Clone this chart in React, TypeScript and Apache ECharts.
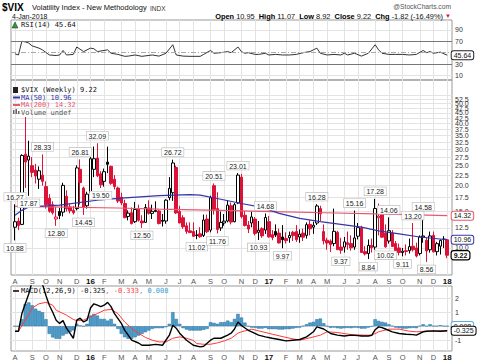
import React, { useEffect, useRef } from 'react';
import * as echarts from 'echarts';

// Weekly candles, week of 3-Aug-2015 (index 0) to week of 1-Jan-2018 (index 126)
const opens = [
  12.6, 13.5, 13.0, 28.4, 26.6, 25.0, 23.8, 21.5, 22.5, 19.8, 17.4, 16.2, 13.8, 15.0, 14.9, 17.8, 15.8, 15.2, 15.5, 24.0, 19.5, 16.0,
  18.5, 24.0, 27.2, 22.8, 21.0, 26.0, 24.8, 21.5, 19.5, 17.6, 16.4, 14.2, 14.8, 13.4, 15.4, 13.5, 13.3, 15.6, 14.7, 15.0, 15.1, 13.6,
  13.5, 17.5, 18.5, 24.5, 15.0, 14.0, 12.8, 12.1, 12.0, 11.5, 11.7, 11.5, 13.8, 12.2, 20.0, 15.5, 12.5, 13.2, 13.5, 16.0, 13.4, 16.5,
  22.0, 14.4, 12.9, 13.2, 13.8, 11.9, 12.4, 12.2,
  13.4, 11.6, 12.0, 11.8, 11.3, 11.1, 11.2, 11.9, 12.0, 11.3, 11.8, 11.5, 13.0, 12.6, 13.2, 15.5, 12.0, 10.9, 10.8, 10.5, 11.9, 10.1,
  10.1, 10.6, 10.5, 10.1, 11.4, 12.5, 9.6, 9.4, 10.3, 10.1, 14.0, 14.5, 11.8, 10.8, 11.8, 10.5, 10.0, 9.5, 9.7, 9.7, 10.2, 10.0,
  9.4, 11.3, 10.9, 9.8, 11.5, 9.6, 10.2, 11.0,
  10.95,
];
const highs = [
  16.27, 14.0, 28.38, 43.0, 33.0, 27.5, 25.5, 24.8, 28.33, 21.0, 18.2, 16.8, 15.8, 15.6, 20.67, 19.0, 16.4, 16.0, 25.1, 26.81, 19.8, 18.7,
  27.5, 30.95, 32.09, 23.5, 24.2, 30.9, 25.0, 22.5, 19.8, 18.5, 17.1, 15.2, 15.7, 16.7, 16.2, 14.4, 16.3, 17.0, 16.2, 16.8, 15.3, 14.6,
  17.2, 22.0, 26.72, 25.0, 16.0, 14.4, 13.3, 13.3, 13.3, 12.2, 12.6, 14.5, 14.5, 17.9, 20.51, 18.6, 15.0, 14.6, 17.0, 16.6, 16.5, 23.01,
  22.8, 15.1, 13.5, 15.0, 14.1, 13.5, 12.6, 14.68,
  14.3, 12.2, 13.0, 12.4, 12.9, 11.9, 12.0, 12.1, 12.9, 12.3, 12.4, 13.3, 13.6, 13.4, 16.28, 16.0, 13.0, 11.2, 11.0, 15.5, 12.1, 11.2,
  11.3, 12.0, 11.5, 15.16, 13.2, 12.8, 10.2, 11.0, 11.1, 17.28, 16.4, 14.8, 13.0, 14.06, 12.2, 10.8, 10.5, 10.0, 10.4, 11.1, 13.2, 10.6,
  11.5, 14.58, 11.2, 12.0, 12.0, 10.7, 11.0, 11.4,
  11.07,
];
const lows = [
  10.88, 12.2, 12.9, 19.5, 17.87, 22.0, 20.5, 19.3, 20.0, 15.5, 14.8, 14.5, 12.8, 13.8, 14.2, 15.0, 14.7, 14.5, 15.2, 16.2, 14.45, 15.5,
  18.0, 22.0, 22.0, 19.5, 19.8, 23.0, 20.2, 19.2, 16.5, 16.1, 13.9, 13.6, 13.0, 13.2, 13.4, 12.5, 13.2, 14.5, 13.8, 14.9, 13.0, 12.7,
  13.1, 17.0, 16.9, 14.6, 13.5, 12.4, 11.7, 11.8, 11.3, 11.02, 11.2, 11.3, 11.8, 11.9, 14.5, 11.76, 12.1, 12.8, 13.3, 13.0, 13.3, 16.3,
  13.9, 12.7, 11.8, 12.6, 11.5, 10.93, 11.2, 11.7,
  11.2, 10.9, 11.3, 10.5, 9.97, 10.5, 10.6, 10.8, 10.7, 10.6, 10.8, 11.1, 11.5, 11.7, 12.9, 13.5, 10.4, 9.8, 9.56, 10.2, 9.8, 9.37,
  9.5, 9.8, 9.7, 9.8, 11.0, 9.5, 9.2, 8.84, 9.5, 9.8, 11.5, 11.2, 10.02, 10.5, 10.1, 9.4, 9.2, 9.11, 9.2, 9.4, 9.6, 9.0,
  9.2, 10.6, 8.56, 9.5, 9.5, 9.2, 9.3, 10.0,
  8.92,
];
const closes = [
  13.39, 12.83, 28.03, 26.05, 27.8, 23.2, 22.28, 23.62, 21.0, 16.2, 15.05, 14.8, 14.1, 14.33, 20.08, 15.47, 15.12, 14.81, 24.39, 20.7, 15.74, 18.21,
  27.01, 27.02, 22.34, 20.2, 23.38, 25.4, 20.53, 19.81, 16.86, 16.5, 14.02, 14.74, 13.1, 15.36, 13.62, 13.22, 15.7, 14.72, 15.04, 15.2, 13.12, 13.47,
  17.03, 19.41, 25.76, 14.77, 13.2, 12.67, 12.02, 11.87, 11.39, 11.55, 11.34, 13.65, 11.98, 17.5, 15.37, 12.29, 13.29, 13.48, 16.12, 13.34, 16.19, 22.51,
  14.17, 12.85, 12.34, 14.12, 11.75, 12.2, 11.44, 14.04,
  11.32, 11.23, 11.54, 10.58, 10.97, 10.85, 11.49, 11.47, 10.96, 11.66, 11.28, 12.96, 12.37, 12.87, 15.96, 14.63, 10.82, 10.57, 10.4, 12.04, 9.81, 9.75,
  10.7, 10.38, 10.02, 11.18, 12.54, 9.51, 9.36, 10.29, 10.03, 15.51, 14.26, 11.28, 10.13, 12.12, 10.17, 9.59, 9.51, 9.65, 9.61, 10.15, 9.8, 9.14,
  11.29, 11.43, 9.67, 11.43, 9.58, 10.49, 10.88, 11.04,
  9.22,
];

// [week index, value]
const ma50 = [
  [0, 14.4], [2, 15.2], [4, 15.8], [13, 16.1], [25, 17.1], [31, 17.4], [42, 17.9], [51, 18.1], [54, 18.0], [60, 17.2], [66, 16.4],
  [72, 15.7], [77, 14.7], [83, 13.9], [89, 13.4], [101, 12.6], [106, 12.1], [112, 11.7], [118, 11.3], [126, 10.96],
];
const ma200 = [
  [0, 15.9], [10, 15.8], [30, 15.6], [42, 15.4], [60, 15.2], [75, 15.0], [90, 14.8], [105, 14.6], [126, 14.32],
];

// RSI(14)
const rsi = [
  [0, 48], [1, 46], [2, 70], [3, 69], [4, 67], [5, 62], [7, 58], [8, 55], [10, 46], [12, 45], [13, 46], [14, 54], [15, 46], [17, 47],
  [18, 60], [20, 52], [22, 58], [23, 57], [24, 52], [27, 55], [28, 49], [30, 47], [32, 43.6], [33, 44], [35, 46], [37, 43.6], [40, 46],
  [42, 44], [44, 49], [46, 64], [47, 46], [49, 44], [51, 43.6], [54, 43.6], [55, 47], [57, 54], [58, 49], [60, 50], [62, 52], [63, 50],
  [65, 60], [66, 52], [67, 49], [68, 50], [70, 47], [71, 47], [73, 49], [74, 46], [76, 47], [78, 46], [80, 46], [82, 47], [84, 50],
  [86, 52], [87, 55], [88, 58], [89, 49], [91, 46], [93, 47], [95, 46], [96, 49], [97, 46], [99, 49], [101, 44], [103, 49], [105, 64],
  [106, 55], [107, 49], [109, 47], [111, 47], [113, 47], [115, 46], [117, 47], [119, 54], [120, 50], [121, 52], [122, 49], [124, 51],
  [126, 45.64],
];

// MACD(12,26,9)
const macdLine = [
  [0, -0.36], [1, -0.36], [2, 0.9], [3, 1.6], [4, 2.3], [5, 3.2], [6, 3.4], [8, 3.0], [9, 2.2], [10, 1.5], [11, 1.0], [12, 0.43],
  [13, 0.2], [14, 0.4], [15, -0.14], [16, -0.5], [17, -0.86], [18, 0.43], [19, 0.57], [20, 0.3], [21, 0.43], [22, 1.3], [23, 1.6],
  [24, 1.5], [25, 1.4], [26, 1.5], [27, 1.7], [28, 1.4], [29, 0.9], [31, 0.2], [32, -0.3], [33, -0.64], [34, -1.0], [36, -1.2],
  [37, -1.36], [39, -1.36], [41, -1.3], [43, -1.36], [45, -0.64], [46, 0.07], [47, -0.14], [48, -0.5], [50, -1.0], [52, -1.36],
  [54, -1.48], [55, -1.43], [57, -1.0], [58, -0.86], [60, -0.86], [62, -0.64], [63, -0.5], [64, -0.2], [65, 0.3], [66, 0.05],
  [68, -0.29], [69, -0.4], [71, -0.64], [73, -0.76], [75, -0.86], [77, -0.95], [79, -1.05], [81, -1.0], [83, -0.95], [85, -0.76],
  [87, -0.4], [88, -0.05], [90, -0.2], [92, -0.52], [94, -0.64], [96, -0.7], [98, -0.64], [100, -0.67], [101, -0.7], [103, -0.7],
  [104, -0.65], [105, -0.25], [106, -0.05], [107, -0.1], [108, -0.2], [110, -0.4], [112, -0.52], [114, -0.57], [116, -0.6],
  [117, -0.64], [119, -0.4], [120, -0.36], [122, -0.33], [124, -0.36], [126, -0.325],
];
const signalLine = [
  [0, -0.36], [1, -0.36], [3, 0.43], [5, 1.3], [7, 1.6], [9, 1.7], [11, 1.5], [12, 1.14], [15, 0.79], [17, 0.48], [18, 0.4], [20, 0.43],
  [22, 0.67], [24, 0.9], [26, 1.14], [28, 1.2], [30, 0.9], [32, 0.3], [34, -0.17], [36, -0.5], [38, -0.8], [40, -1.0], [42, -1.12],
  [44, -1.12], [46, -0.86], [48, -0.76], [50, -0.86], [52, -1.02], [53, -1.24], [55, -1.29], [57, -1.29], [59, -1.19], [61, -1.05],
  [63, -0.86], [65, -0.5], [66, -0.4], [69, -0.21], [71, -0.33], [75, -0.57], [79, -0.8], [83, -1.0], [86, -0.83], [89, -0.64],
  [91, -0.4], [94, -0.45], [98, -0.6], [102, -0.64], [104, -0.64], [106, -0.4], [109, -0.21], [112, -0.21], [115, -0.36], [117, -0.4],
  [120, -0.36], [124, -0.33], [126, -0.333],
];
const histogram = [
  0.0, 0.0, 0.5, 1.6, 1.7, 1.5, 1.25, 1.1, 1.0, 0.5, -0.55, -0.8, -0.9, -0.9, -0.67, -0.55, -0.43, -0.3, 0.17, 0.05, 0.0, 0.17,
  0.76, 0.88, 0.76, 0.52, 0.52, 0.4, 0.52, 0.17, -0.19, -0.55, -0.79, -0.9, -0.9, -0.79, -0.67, -0.55, -0.43, -0.31, -0.19, -0.14,
  -0.14, -0.14, -0.07, 0.17, 1.0, 0.52, 0.17, -0.14, -0.24, -0.31, -0.31, -0.31, -0.31, -0.26, -0.19, 0.29, 0.24, 0.17, 0.29, 0.29,
  0.4, 0.29, 0.52, 0.88, 0.62, 0.26, 0.0, -0.1, -0.12, -0.17, -0.17, -0.12, -0.21, -0.21, -0.21, -0.24, -0.24, -0.21, -0.21, -0.17,
  -0.12, -0.1, 0.02, 0.14, 0.26, 0.31, 0.5, 0.55, 0.21, 0.0, -0.12, -0.1, -0.14, -0.17, -0.14, -0.12, -0.14, -0.1, -0.12, -0.17,
  -0.17, -0.1, -0.02, 0.5, 0.38, 0.31, 0.26, 0.14, 0.02, -0.1, -0.14, -0.17, -0.17, -0.14, -0.12, -0.14, 0.02, 0.14, 0.02, 0.14,
  0.02, 0.02, 0.07, 0.02, 0.008,
];

// Month ticks (first week of each month)
const tickIdx = [0, 5, 9, 13, 18, 22, 26, 31, 35, 39, 44, 48, 52, 57, 61, 66, 70, 74, 79, 83, 87, 91, 96, 100, 105, 109, 113, 118, 122, 126];
const tickLabels = ['A', 'S', 'O', 'N', 'D', '16', 'F', 'M', 'A', 'M', 'J', 'J', 'A', 'S', 'O', 'N', 'D', '17', 'F', 'M', 'A', 'M', 'J', 'J', 'A', 'S', 'O', 'N', 'D', '18'];
const priceTicks = [10, 12.5, 15, 17.5, 20, 22.5, 25, 27.5, 30, 32.5, 35, 37.5, 40, 42.5, 45, 47.5, 50, 52.5, 55];
const rsiTicks = [10, 30, 70, 90];
const macdTicks = [-1, 1, 2];

// Swing annotations: [week index, 'H' high | 'L' low]
const annotations: [number, string][] = [
  [0, 'H'], [0, 'L'], [4, 'L'], [8, 'H'], [12, 'L'], [19, 'H'], [20, 'L'], [24, 'H'], [25, 'L'], [37, 'L'], [46, 'H'], [53, 'L'],
  [58, 'H'], [59, 'L'], [65, 'H'], [71, 'L'], [73, 'H'], [78, 'L'], [88, 'H'], [95, 'L'], [99, 'H'], [103, 'L'], [105, 'H'],
  [108, 'L'], [109, 'H'], [113, 'L'], [116, 'H'], [119, 'H'], [120, 'L'],
];

const FONT = '"Liberation Sans", Arial, sans-serif';
const MONO = '"DejaVu Sans Mono", monospace';
const RED = '#dc1238';
const BLUE_MA = '#3535a8';
const RED_MA = '#e8586f';
const HIST = '#4b9dcc';
const GRIDC = '#e3e3e3';

export default function App() {
  const ref = useRef<HTMLDivElement>(null);
  useEffect(() => {
    if (!ref.current) return;
    const chart = echarts.init(ref.current, undefined, { renderer: 'svg' });
    const ln = Math.log;
    const last = closes.length - 1;

    const candleData = closes.map((c, i) => {
      const o = opens[i];
      const prev = i > 0 ? closes[i - 1] : o - 1;
      const col = c < prev ? RED : '#000';
      const fill = c > o ? '#fff' : col;
      return {
        value: [i, ln(o), ln(c), ln(lows[i]), ln(highs[i])],
        itemStyle: { color: fill, color0: fill, borderColor: col, borderColor0: col, borderWidth: 1 },
      };
    });

    const xAxisFor = (g: number, labels: boolean) => ({
      type: 'value', gridIndex: g, min: -1.17, max: 127.4,
      axisLine: { show: false },
      axisTick: { show: false, customValues: tickIdx },
      axisLabel: {
        show: labels, customValues: tickIdx, margin: 2, fontSize: 7.5, lineHeight: 8, fontFamily: FONT, color: '#555',
        verticalAlign: 'top',
        formatter: (v: number) => {
          const lab = tickLabels[tickIdx.indexOf(Math.round(v))] ?? '';
          return /\d/.test(lab) ? `{y|${lab}}` : lab;
        },
        rich: { y: { fontWeight: 'bold', color: '#111', fontSize: 8, lineHeight: 8, fontFamily: FONT } },
      },
      splitLine: { show: true, lineStyle: { color: GRIDC, width: 1 } },
    });

    const tag = (coord: number[], text: string, border: string, bold = false) => ({
      coord, value: text, symbol: 'rect', symbolSize: 1, itemStyle: { color: 'rgba(0,0,0,0)' },
      label: {
        show: true, position: 'right', distance: 4, formatter: text, fontFamily: FONT, fontSize: 7,
        fontWeight: bold ? 'bold' : 'normal', color: '#111', backgroundColor: '#fff', borderColor: border,
        borderWidth: bold ? 1.2 : 1, borderRadius: 2, padding: [1, 2, 0, 2],
      },
    });

    const annPoints = annotations.map(([i, k]) => {
      const v = k === 'H' ? highs[i] : lows[i];
      return {
        coord: [i, ln(v)], value: v, symbol: 'rect', symbolSize: 1, itemStyle: { color: 'rgba(0,0,0,0)' },
        label: {
          show: true, position: k === 'H' ? 'top' : 'bottom', distance: 3, formatter: v.toFixed(2),
          fontFamily: FONT, fontSize: 7, color: '#222', backgroundColor: '#fff', borderColor: '#b8b8b8',
          borderWidth: 0.6, padding: [1, 2, 0, 2],
        },
      };
    });

    const lastRsi = rsi[rsi.length - 1];
    const lastMa50 = ma50[ma50.length - 1];
    const lastMa200 = ma200[ma200.length - 1];
    const lastMacd = macdLine[macdLine.length - 1];

    const t = (text: string, x: number, y: number, font: string, fill = '#000', align = 'left', rich?: any) => ({
      type: 'text', x, y, silent: true, z: 100,
      style: { text, font, fill, align, verticalAlign: 'middle', rich },
    });

    const option: any = {
      animation: false,
      backgroundColor: '#fff',
      textStyle: { fontFamily: FONT },
      grid: [
        { left: 11, right: 28, top: 20, height: 60, show: true, borderColor: '#999', borderWidth: 1 },
        { left: 11, right: 28, top: 80, height: 195, show: true, borderColor: '#999', borderWidth: 1 },
        { left: 11, right: 28, top: 286, height: 65, show: true, borderColor: '#999', borderWidth: 1 },
      ],
      xAxis: [xAxisFor(0, false), xAxisFor(1, true), xAxisFor(2, true)],
      yAxis: [
        {
          type: 'value', gridIndex: 0, position: 'right', min: 2, max: 107.5,
          axisLine: { show: false }, axisTick: { show: false, customValues: [10, 90] },
          axisLabel: { customValues: rsiTicks, fontSize: 7, fontFamily: FONT, color: '#333', margin: 3 },
          splitLine: { show: true, lineStyle: { color: GRIDC } },
        },
        {
          type: 'value', gridIndex: 1, position: 'right', min: ln(7.4), max: ln(64.9),
          axisLine: { show: false }, axisTick: { show: false, customValues: priceTicks.map(ln) },
          axisLabel: {
            customValues: priceTicks.map(ln), fontSize: 7, fontFamily: FONT, color: '#333', margin: 3,
            formatter: (v: number) => Math.exp(v).toFixed(1),
          },
          splitLine: { show: true, lineStyle: { color: GRIDC } },
        },
        {
          type: 'value', gridIndex: 2, position: 'right', min: -1.77, max: 2.87,
          axisLine: { show: false }, axisTick: { show: false, customValues: [-1, 0, 1, 2] },
          axisLabel: { customValues: macdTicks, fontSize: 7, fontFamily: FONT, color: '#333', margin: 3 },
          splitLine: { show: true, lineStyle: { color: GRIDC } },
        },
      ],
      series: [
        {
          type: 'line', xAxisIndex: 0, yAxisIndex: 0, data: rsi, symbol: 'none',
          lineStyle: { color: '#333', width: 1 },
          markLine: {
            silent: true, symbol: 'none', label: { show: false },
            data: [
              { yAxis: 70, lineStyle: { color: '#777', type: 'solid', width: 1 } },
              { yAxis: 30, lineStyle: { color: '#777', type: 'solid', width: 1 } },
              { yAxis: 50, lineStyle: { color: '#aaa', type: [5, 2, 1, 2], width: 1 } },
            ],
          },
          markPoint: { data: [tag(lastRsi, lastRsi[1].toFixed(2), '#222')] },
        },
        {
          type: 'candlestick', xAxisIndex: 1, yAxisIndex: 1, data: candleData, barWidth: 3,
          markPoint: { z: 10, data: [...annPoints, tag([last, ln(closes[last])], closes[last].toFixed(2), '#000', true)] },
        },
        {
          type: 'line', xAxisIndex: 1, yAxisIndex: 1, data: ma200.map(([i, v]) => [i, ln(v)]), symbol: 'none',
          lineStyle: { color: RED_MA, width: 1.2 },
          markPoint: { data: [tag([lastMa200[0], ln(lastMa200[1])], lastMa200[1].toFixed(2), RED_MA)] },
        },
        {
          type: 'line', xAxisIndex: 1, yAxisIndex: 1, data: ma50.map(([i, v]) => [i, ln(v)]), symbol: 'none',
          lineStyle: { color: BLUE_MA, width: 1.2 },
          markPoint: { data: [tag([lastMa50[0], ln(lastMa50[1])], lastMa50[1].toFixed(2), BLUE_MA)] },
        },
        {
          type: 'bar', xAxisIndex: 2, yAxisIndex: 2, data: histogram.map((v, i) => [i, v]), barWidth: 3.4,
          itemStyle: { color: HIST, borderColor: '#2a6e9c', borderWidth: 0.5 },
          markPoint: { data: [tag([last, histogram[last]], histogram[last].toFixed(3), '#5aaee0')] },
        },
        {
          type: 'line', xAxisIndex: 2, yAxisIndex: 2, data: signalLine, symbol: 'none',
          lineStyle: { color: '#ff3a3a', width: 1 },
        },
        {
          type: 'line', xAxisIndex: 2, yAxisIndex: 2, data: macdLine, symbol: 'none',
          lineStyle: { color: '#000', width: 1.4 },
          markPoint: { data: [tag(lastMacd, lastMacd[1].toFixed(3), '#000')] },
        },
      ],
      graphic: [
        t('$VIX', 2, 7, `bold 10px ${FONT}`),
        t('Volatility Index - New Methodology', 32, 7.5, `7.5px ${FONT}`, '#111'),
        t('INDX', 150, 8, `6.5px ${FONT}`, '#333'),
        t('@StockCharts.com', 451, 6, `6.7px ${FONT}`, '#555', 'right'),
        t('4-Jan-2018', 12, 16, `7px ${FONT}`, '#111'),
        t('{b|Open} 10.95  {b|High} 11.07  {b|Low} 8.92  {b|Close} 9.22  {b|Chg} -1.82 (-16.49%) {r|▼}', 451, 16,
          `7.4px ${FONT}`, '#111', 'right',
          { b: { font: `bold 7.4px ${FONT}`, fill: '#000' }, r: { font: `6px ${FONT}`, fill: RED } }),
        { type: 'polygon', silent: true, z: 100, shape: { points: [[12, 28], [15, 22], [18, 28]] }, style: { fill: '#2e9a3a', stroke: '#222', lineWidth: 0.5 } },
        t('RSI(14) 45.64', 21, 25, `7px ${MONO}`, '#111'),
        { type: 'rect', silent: true, z: 100, shape: { x: 13, y: 87, width: 5, height: 6 }, style: { fill: '#222' } },
        t('$VIX (Weekly) 9.22', 21, 90, `7px ${MONO}`, '#111'),
        { type: 'line', silent: true, z: 100, shape: { x1: 13, y1: 97.5, x2: 20, y2: 97.5 }, style: { stroke: BLUE_MA, lineWidth: 2 } },
        t('MA(50) 10.96', 21, 97.5, `7px ${MONO}`, BLUE_MA),
        { type: 'line', silent: true, z: 100, shape: { x1: 13, y1: 105, x2: 20, y2: 105 }, style: { stroke: RED_MA, lineWidth: 2 } },
        t('MA(200) 14.32', 21, 105, `7px ${MONO}`, RED_MA),
        { type: 'rect', silent: true, z: 100, shape: { x: 13, y: 110, width: 1.5, height: 4 }, style: { fill: '#666' } },
        { type: 'rect', silent: true, z: 100, shape: { x: 15.5, y: 109, width: 1.5, height: 5 }, style: { fill: '#666' } },
        { type: 'rect', silent: true, z: 100, shape: { x: 18, y: 111, width: 1.5, height: 3 }, style: { fill: '#666' } },
        t('Volume undef', 21, 112.5, `7px ${MONO}`, '#555'),
        { type: 'line', silent: true, z: 100, shape: { x1: 13, y1: 291, x2: 19, y2: 291 }, style: { stroke: '#000', lineWidth: 1.5 } },
        t('{k|MACD(12,26,9) -0.325}{r|, -0.333}{c|, 0.008}', 21, 291, `7px ${MONO}`, '#000', 'left',
          { k: { font: `7px ${MONO}`, fill: '#111' }, r: { font: `7px ${MONO}`, fill: '#ff3a3a' }, c: { font: `7px ${MONO}`, fill: '#3aa0d8' } }),
      ],
    };
    chart.setOption(option);
    return () => chart.dispose();
  }, []);
  return <div ref={ref} style={{ width: 480, height: 363, position: 'fixed', left: 0, top: 0 }} />;
}
